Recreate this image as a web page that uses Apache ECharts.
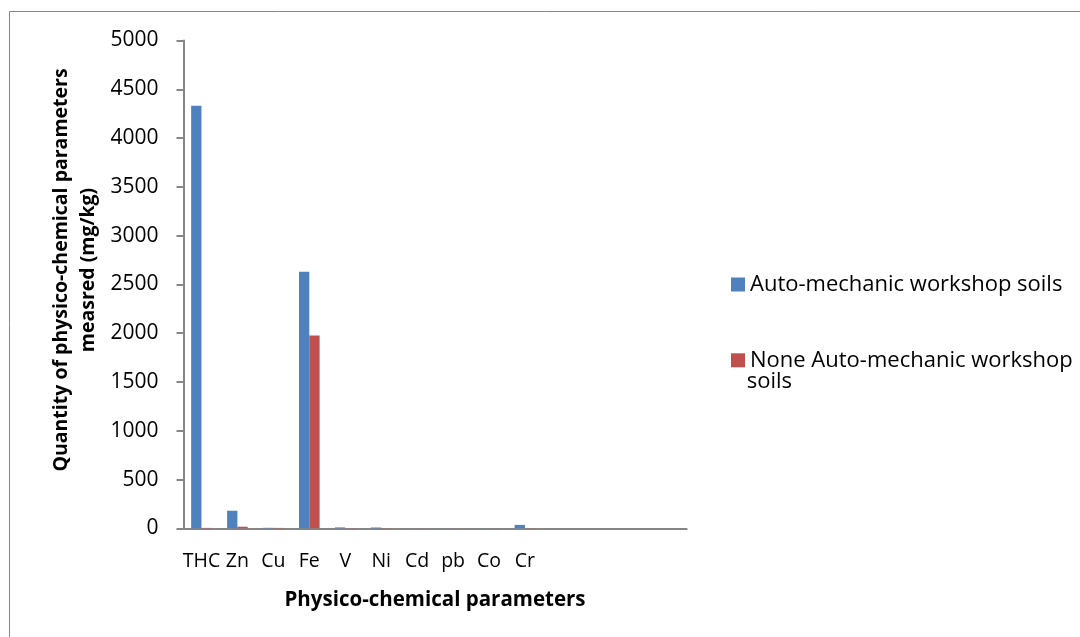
<!DOCTYPE html>
<html>
<head>
<meta charset="utf-8">
<script src="https://cdn.jsdelivr.net/npm/echarts@6/dist/echarts.min.js"></script>
<style>html,body{margin:0;padding:0;background:#fff}#c{width:1080px;height:637px}</style>
</head>
<body>
<div id="c"></div>
<script>
const categories = ['THC', 'Zn', 'Cu', 'Fe', 'V', 'Ni', 'Cd', 'pb', 'Co', 'Cr', '', '', '', ''];
const autoMechanic = [4330, 180, 5, 2630, 9, 8, 1, 1, 1, 35, null, null, null, null];
const noneAutoMechanic = [4, 16, 4, 1975, 2, 2, 1, 1, 1, 2, null, null, null, null];
const yTicks = { min: 0, max: 5000, interval: 500 };
const seriesNames = ['Auto-mechanic workshop soils', 'None Auto-mechanic workshop soils'];

const FONT = 'Open Sans';
const chart = echarts.init(document.getElementById('c'), null, { renderer: 'canvas' });
chart.setOption({
  animation: false,
  backgroundColor: '#fff',
  grid: { left: 183.5, right: 393.3, top: 40.5, bottom: 108.7, containLabel: false },
  xAxis: {
    type: 'category',
    data: categories,
    axisLine: { lineStyle: { color: '#868686', width: 2 } },
    axisTick: { show: false },
    axisLabel: { interval: 0, color: '#000', fontFamily: FONT, fontSize: 19.5, margin: 23 }
  },
  yAxis: {
    type: 'value',
    min: yTicks.min, max: yTicks.max, interval: yTicks.interval,
    axisLine: { show: true, lineStyle: { color: '#868686', width: 2 } },
    axisTick: { show: true, length: 7, lineStyle: { color: '#868686', width: 2 } },
    splitLine: { show: false },
    axisLabel: { color: '#000', fontFamily: FONT, fontSize: 21, margin: 25, formatter: v => String(v) }
  },
  legend: [
    { data: [seriesNames[0]], orient: 'vertical', left: 726, top: 268.5, itemWidth: 14, itemHeight: 14, itemGap: 6,
      icon: 'rect', textStyle: { color: '#000', fontFamily: FONT, fontSize: 22 } },
    { data: [seriesNames[1]], orient: 'vertical', left: 726, top: 344.3, itemWidth: 14, itemHeight: 14, itemGap: 6,
      icon: 'rect', formatter: () => 'None Auto-mechanic workshop', textStyle: { color: '#000', fontFamily: FONT, fontSize: 22 } }
  ],
  graphic: [
    { type: 'rect', z: -10, silent: true, shape: { x: 9.5, y: 11.5, width: 1200, height: 800 },
      style: { fill: 'none', stroke: '#888', lineWidth: 1 } },
    { type: 'text', x: 746.7, y: 382,
      style: { text: 'soils', fill: '#000', font: '22px "Open Sans"', align: 'left', verticalAlign: 'middle' } },
    { type: 'text', x: 75, y: 270, rotation: Math.PI / 2,
      style: { text: 'Quantity of physico-chemical parameters\nmeasred (mg/kg)', fill: '#000',
        font: 'bold 19.5px "Open Sans"', align: 'center', verticalAlign: 'middle', lineHeight: 27 } },
    { type: 'text', x: 435, y: 600,
      style: { text: 'Physico-chemical parameters', fill: '#000', font: 'bold 20.5px "Open Sans"',
        align: 'center', verticalAlign: 'middle' } }
  ],
  series: [
    { name: seriesNames[0], type: 'bar', data: autoMechanic, itemStyle: { color: '#4F81BD' },
      barWidth: '28.7%', barGap: '0%' },
    { name: seriesNames[1], type: 'bar', data: noneAutoMechanic, itemStyle: { color: '#C0504D' },
      barWidth: '28.7%', barGap: '0%' }
  ]
});
</script>
</body>
</html>
